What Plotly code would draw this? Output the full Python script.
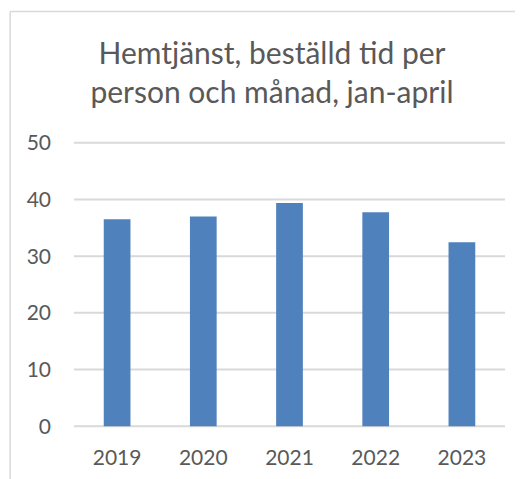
import plotly.graph_objects as go

years = ["2019", "2020", "2021", "2022", "2023"]
values = [36.5, 37.0, 39.4, 37.75, 32.45]
y_ticks = [0, 10, 20, 30, 40, 50]
title_text = "Hemtjänst, beställd tid per<br>person och månad, jan-april"

# The page body has an 8px margin, so the figure is drawn 8px smaller and
# every target pixel position is shifted by -8.
OFF = 8
W, H = 523 - OFF, 479 - OFF
y_lo, y_hi = -0.5, 50.5
px_per_unit = (425.7 - 142.7) / 50.0
plot_left, plot_right = 74.3 - OFF, 505 - OFF
y0_px = 425.7 - OFF
ml = plot_left
mr = W - plot_right
mb = H - (y0_px + (0 - y_lo) * px_per_unit)
mt = (y0_px - (y_hi - 0) * px_per_unit)
pw = W - ml - mr
ph = H - mt - mb

def px_to_paper_x(px):
    return (px - OFF - ml) / pw

def px_to_paper_y(py):
    return (H - mb - (py - OFF)) / ph

font_family = "Lato, 'Liberation Sans', sans-serif"
text_color = "#595959"
grid_color = "#D9D9D9"

fig = go.Figure(go.Bar(
    x=years, y=values,
    marker=dict(color="#4F81BD", line=dict(width=0)),
    width=0.31,
))

# horizontal grid lines at the tick values
for v in y_ticks:
    fig.add_hline(y=v, line=dict(color=grid_color, width=2), layer="below")

# chart-area border (left and top edges visible in the crop)
bx = px_to_paper_x(10.5)
by = px_to_paper_y(11.5)
fig.add_shape(type="line", x0=bx, x1=bx, y0=px_to_paper_y(490), y1=by,
              xref="paper", yref="paper", line=dict(color=grid_color, width=1.5))
fig.add_shape(type="line", x0=bx, x1=px_to_paper_x(540), y0=by, y1=by,
              xref="paper", yref="paper", line=dict(color=grid_color, width=1.5))

fig.update_layout(
    width=W, height=H,
    margin=dict(l=ml, r=mr, t=mt, b=mb, autoexpand=False),
    paper_bgcolor="white", plot_bgcolor="white",
    showlegend=False,
    font=dict(family=font_family, color=text_color, size=21),
    title=dict(text=title_text, x=(272 - OFF) / W, xanchor="center", xref="container",
               y=1 - (64 - OFF) / H, yanchor="top", yref="container",
               font=dict(size=30, color=text_color, family=font_family)),
    xaxis=dict(showgrid=False, zeroline=False, showline=False, ticks="",
               ticklabelstandoff=14, tickfont=dict(size=21)),
    yaxis=dict(range=[y_lo, y_hi], tickvals=y_ticks, showgrid=False,
               zeroline=False, showline=False, ticks="",
               ticklabelstandoff=22, tickfont=dict(size=21)),
)

fig.write_html("out.html")
